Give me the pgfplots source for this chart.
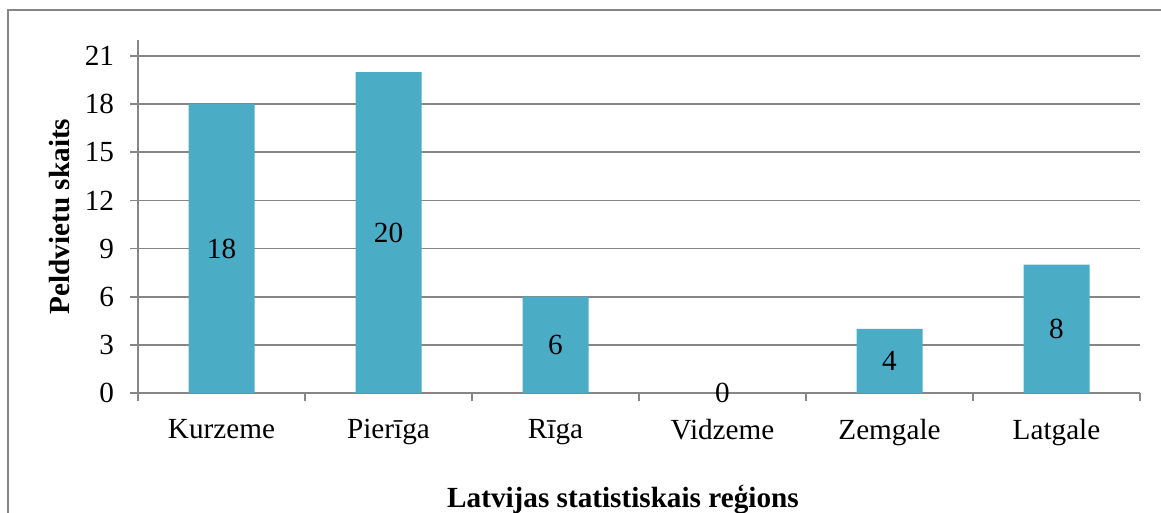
\documentclass[border=0pt]{standalone}
\usepackage{fontspec}
\setmainfont{Liberation Serif}
\usepackage{pgfplots}
\pgfplotsset{compat=1.18}
\definecolor{barblue}{HTML}{4BACC6}
\definecolor{gridgray}{HTML}{868686}

\begin{document}
\begin{tikzpicture}[font=\fontsize{14.6bp}{17bp}\selectfont]
\path[use as bounding box] (0,0) rectangle (580.5bp,256.5bp);
\draw[gridgray, line width=1bp] (4bp,0) -- (4bp,251.5bp) -- (580.5bp,251.5bp);
\begin{axis}[
  at={(69bp,60bp)}, anchor=south west,
  width=501bp, height=176.5bp, scale only axis,
  xmin=-0.5, xmax=5.5, ymin=0, ymax=22,
  axis lines=left, axis line style={-, gridgray, line width=0.9bp},
  xtick={0,...,5},
  xticklabels={Kurzeme, Pierīga, Rīga, Vidzeme, Zemgale, Latgale},
  major x tick style={draw=none},
  minor xtick={-0.5,0.5,...,5.5},
  minor tick length=4bp,
  minor tick style={gridgray, line width=0.9bp},
  ytick={0,3,...,21},
  major tick length=4bp,
  tick align=outside,
  major y tick style={gridgray, line width=0.9bp},
  ymajorgrids, grid style={gridgray, line width=0.9bp},
  /pgf/number format/assume math mode=true,
  x tick label style={yshift=-5.5bp},
  y tick label style={xshift=-4.5bp},
  xlabel={\bfseries Latvijas statistiskais reģions},
  ylabel={\bfseries Peldvietu skaits},
  every axis x label/.style={at={(axis description cs:0.484,-0.303)}, anchor=center},
  every axis y label/.style={at={(axis description cs:-0.078,0.5)}, anchor=center, rotate=90},
  ybar, bar width=33bp,
  visualization depends on=y \as \rawy,
  nodes near coords,
  every node near coord/.append style={anchor=center, shift={(axis direction cs:0,{-0.5*\rawy})}},
]
\addplot[fill=barblue, draw=none] coordinates {(0,18) (1,20) (2,6) (3,0) (4,4) (5,8)};
\end{axis}
\end{tikzpicture}
\end{document}
